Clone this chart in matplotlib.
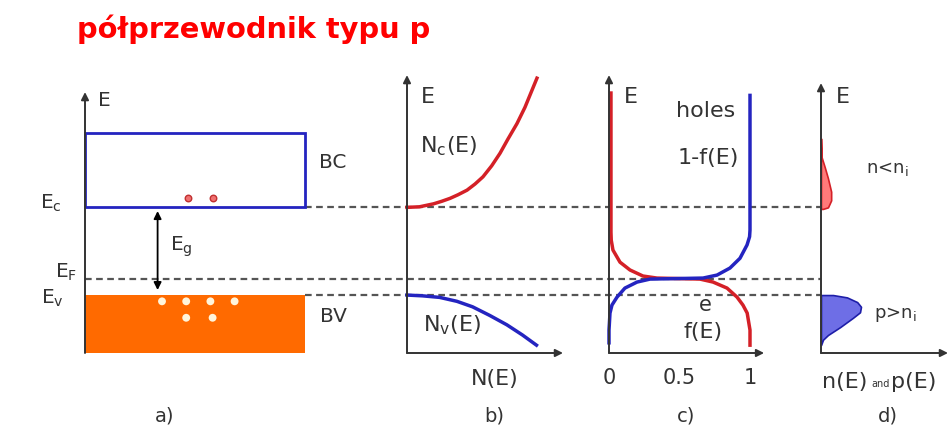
import matplotlib.pyplot as plt
from matplotlib.patches import Rectangle

plt.rcParams['font.family'] = ['DejaVu Sans']
plt.rcParams['mathtext.default'] = 'regular'

W, H = 949, 432

# energy levels (eV, Ev = 0)
E_c = 1.12
E_F = 0.20
E_v = 0.0
BC_top = 2.07
E_bot = -0.74

# b) density of states
Nc_N = [0, 0.08, 0.17, 0.222, 0.276, 0.327, 0.385, 0.436, 0.487, 0.543,
        0.596, 0.647, 0.705, 0.756, 0.833]
Nc_E = [1.12, 1.127, 1.165, 1.197, 1.235, 1.281, 1.34, 1.418, 1.51, 1.651,
        1.81, 1.992, 2.19, 2.397, 2.77]
Nv_N = [0, 0.10, 0.21, 0.32, 0.42, 0.53, 0.64, 0.74, 0.83]
Nv_E = [0, -0.01, -0.03, -0.08, -0.15, -0.26, -0.38, -0.51, -0.64]

# c) Fermi function f(E) (electrons) and 1-f(E) (holes)
f_val = [0.014, 0.014, 0.016, 0.028, 0.078, 0.149, 0.241, 0.34, 0.645,
         0.738, 0.837, 0.908, 0.95, 0.98, 1.0, 1.0]
f_E = [2.58, 0.80, 0.70, 0.575, 0.42, 0.32, 0.243, 0.217, 0.204, 0.166,
       0.089, -0.026, -0.128, -0.23, -0.447, -0.64]
h_val = [1.0, 1.0, 0.997, 0.979, 0.929, 0.858, 0.766, 0.667, 0.291, 0.199,
         0.113, 0.057, 0.021, 0.007, 0.0, 0.0]
h_E = [2.55, 0.83, 0.745, 0.64, 0.47, 0.345, 0.255, 0.217, 0.204, 0.166,
       0.089, -0.026, -0.128, -0.23, -0.447, -0.61]
f_ticks = [0, 0.5, 1]

# d) carrier distributions
n_val = [0, 0.005, 0.03, 0.055, 0.08, 0.08, 0.055, 0.015, 0]
n_E = [2.0, 1.76, 1.63, 1.49, 1.32, 1.21, 1.12, 1.10, 1.10]
p_val = [0, 0.095, 0.205, 0.285, 0.315, 0.307, 0.252, 0.15, 0.055, 0.016, 0]
p_E = [0, 0, -0.03, -0.09, -0.15, -0.22, -0.29, -0.41, -0.51, -0.57, -0.64]

# a) carriers
el_x = [0.47, 0.58]
el_E = [1.24, 1.24]
hole_x = [0.35, 0.46, 0.57, 0.68, 0.46, 0.58]
hole_E = [-0.08, -0.08, -0.08, -0.08, -0.29, -0.29]

RED = '#D42027'
BLUE = '#2424C0'
AXC = '#333333'
TXT = '#333333'

PX_EV = 78.3
E_TOP = E_bot + (353 - 60) / PX_EV


def e_at(py):
    return (295 - py) / PX_EV


fig = plt.figure(figsize=(W / 100, H / 100), dpi=100)

# background layer for the dashed level lines
bg = fig.add_axes([0, 0, 1, 1])
bg.set_xlim(0, W)
bg.set_ylim(e_at(H), e_at(0))
bg.axis('off')
dash = dict(color='#555555', lw=1.6, ls=(0, (3, 2)))
bg.plot([305, 821], [E_c, E_c], **dash)
bg.plot([85, 821], [E_F, E_F], **dash)
bg.plot([305, 821], [E_v, E_v], **dash)


def panel(x0, x1, xmax=1.0):
    ax = fig.add_axes([x0 / W, 1 - 353 / H, (x1 - x0) / W, 293 / H])
    ax.set_xlim(0, xmax)
    ax.set_ylim(E_bot, E_TOP)
    ax.axis('off')
    ax.patch.set_alpha(0)
    return ax


def arrow(ax, a, b):
    ax.annotate('', xy=a, xytext=b, annotation_clip=False,
                arrowprops=dict(arrowstyle='-|>', color=AXC, lw=1.4,
                                mutation_scale=11, shrinkA=0, shrinkB=0))


def put(x, y, s, size=16, **kw):
    kw.setdefault('color', TXT)
    fig.text(x / W, 1 - y / H, s, size=size, ha=kw.pop('ha', 'center'),
             va='center', **kw)


# a) band diagram
axa = panel(85, 305)
axa.add_patch(Rectangle((0, E_c), 1, BC_top - E_c, fill=False,
                        edgecolor=BLUE, lw=2, zorder=3, clip_on=False))
axa.add_patch(Rectangle((0, E_bot), 1, E_v - E_bot, facecolor='#FF6A00',
                        edgecolor='none', zorder=2, clip_on=False))
arrow(axa, (0, e_at(92)), (0, E_bot))
axa.annotate('', xy=(0.33, e_at(211)), xytext=(0.33, e_at(290)),
             arrowprops=dict(arrowstyle='<|-|>', color='black', lw=1.3,
                             mutation_scale=11, shrinkA=0, shrinkB=0))
axa.scatter(el_x, el_E, s=22, facecolor='#F07070', edgecolor='#C03030',
            lw=1, zorder=5)
axa.scatter(hole_x, hole_E, s=32, facecolor='#FFF5DC', edgecolor='none',
            zorder=5)

# b) density of states
axb = panel(407, 563)
arrow(axb, (0, e_at(75)), (0, E_bot))
arrow(axb, (1, E_bot), (0, E_bot))
axb.plot(Nc_N, Nc_E, color=RED, lw=2.5, clip_on=False,
         solid_joinstyle='round')
axb.plot(Nv_N, Nv_E, color=BLUE, lw=2.5, clip_on=False,
         solid_joinstyle='round')

# c) occupation probability
axc = panel(609, 750)
arrow(axc, (0, e_at(75)), (0, E_bot))
arrow(axc, (1.1, E_bot), (0, E_bot))
axc.plot(f_val, f_E, color=RED, lw=2.5, clip_on=False,
         solid_joinstyle='round')
axc.plot(h_val, h_E, color=BLUE, lw=2.5, clip_on=False,
         solid_joinstyle='round')
for t in f_ticks:
    axc.text(t, e_at(378), f'{t:g}', size=15, color=TXT, ha='center',
             va='center')

# d) carrier densities
axd = panel(821, 948)
axd.fill_betweenx(n_E, 0, n_val, facecolor='#FF7A7A', edgecolor=RED, lw=1.2,
                  clip_on=False)
axd.fill_betweenx(p_E, 0, p_val, facecolor='#6E6EE6', edgecolor='#1E1EA8',
                  lw=1.2, clip_on=False)
arrow(axd, (0, e_at(83)), (0, E_bot))
arrow(axd, (1, E_bot), (0, E_bot))

# labels
fig.text(77 / W, 1 - 29 / H, 'półprzewodnik typu p', color='#FF0000',
         size=20.8, weight='bold', va='center', ha='left')

put(104, 101, 'E', size=14.5)
put(333, 162, 'BC', size=14.5)
put(333, 317, 'BV', size=14.5)
put(51, 203, '$E_c$', size=14.5)
put(181, 247, '$E_g$', size=14.5)
put(66, 272, '$E_F$', size=14.5)
put(52, 298, '$E_v$', size=14.5)

put(428, 97, 'E')
put(449, 146, '$N_c$(E)')
put(452, 325, '$N_v$(E)')
put(495, 379, 'N(E)')

put(631, 97, 'E')
put(706, 111, 'holes')
put(708, 158, '1-f(E)')
put(705, 305, 'e', size=15)
put(703, 332, 'f(E)')

put(843, 97, 'E')
put(887, 169, 'n<$n_i$', size=13)
put(895, 314, 'p>$n_i$', size=13)
put(822, 382, 'n(E)', size=16, ha='left')
put(881, 384, 'and', size=7)
put(891, 382, 'p(E)', size=16, ha='left')

for lab, x in zip(['a)', 'b)', 'c)', 'd)'], [165, 494, 686, 888]):
    put(x, 416, lab, size=14)

fig.savefig('out.png', dpi=100)
